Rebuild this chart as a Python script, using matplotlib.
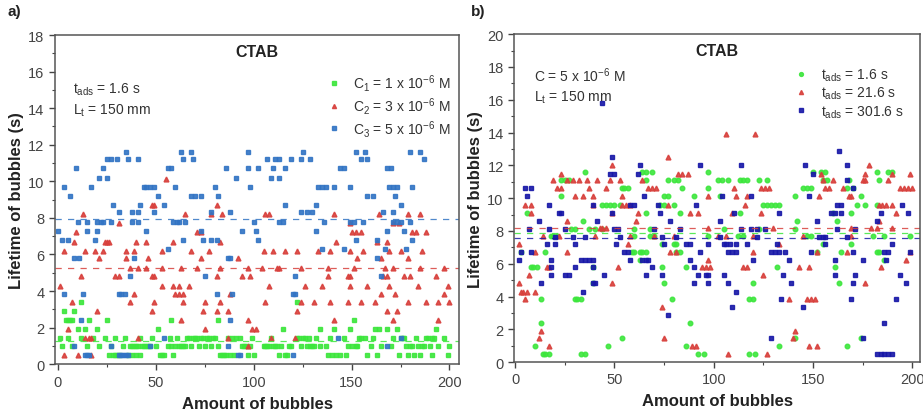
import matplotlib
matplotlib.use('Agg')
import matplotlib.pyplot as plt
from matplotlib.ticker import MultipleLocator

matplotlib.rcParams['font.family'] = ['Liberation Sans', 'DejaVu Sans']
matplotlib.rcParams['mathtext.default'] = 'regular'

# bubble numbers grouped by measured lifetime (s)
# panel a) : t_ads = 1.6 s, three concentrations
a_c1 = {
    3.4: [12, 122],
    2.9: [3, 8],
    2.4: [4, 5, 6, 7, 16, 25, 58, 82, 151],
    1.9: [10, 14, 20, 51, 115, 134, 141, 149, 162, 164, 168, 173, 193],
    1.45: [1, 5, 12, 18, 24, 29, 34, 42, 48, 57, 61, 66, 67, 69, 70, 71, 73, 74, 76, 77, 79, 80, 87,
           89, 91, 93, 99, 109, 122, 123, 125, 126, 128, 132, 139, 146, 154, 155, 157, 161, 171,
           175, 176, 177, 183, 188, 189, 191, 192, 197],
    1.0: [2, 7, 15, 21, 27, 33, 37, 38, 39, 40, 41, 43, 44, 45, 46, 47, 50, 56, 58, 60, 62, 63, 64,
          65, 68, 72, 75, 78, 82, 94, 95, 96, 98, 105, 106, 107, 108, 110, 111, 112, 114, 118, 119,
          124, 127, 129, 130, 131, 134, 137, 148, 150, 152, 153, 160, 165, 170, 178, 180, 181,
          184, 186, 187, 190, 194, 200],
    0.5: [26, 28, 29, 30, 31, 36, 38, 40, 42, 52, 53, 54, 59, 83, 84, 85, 86, 88, 90, 97, 100, 113,
          116, 117, 138, 140, 142, 144, 147, 158, 163, 174, 179, 182, 185, 191, 199],
}
a_c2 = {
    10.1: [55],
    8.7: [48, 49, 81],
    8.2: [13, 65, 78, 84, 106, 108, 141, 164, 179, 185],
    7.7: [31, 149, 171, 174],
    7.2: [9, 71, 73, 150, 152, 155, 181, 183, 188],
    6.7: [8, 24, 25, 26, 40, 45, 59, 83, 142, 163, 168],
    6.2: [3, 14, 19, 23, 35, 39, 53, 68, 77, 105, 110, 116, 122, 133, 139, 149, 156, 169, 175, 186],
    5.8: [21, 35, 46, 73, 92, 153, 165, 179],
    5.25: [37, 41, 45, 53, 63, 71, 83, 97, 104, 112, 113, 124, 138, 151, 167, 171, 185, 197],
    4.8: [12, 29, 31, 48, 49, 81, 94, 98, 138, 148, 149, 166, 168, 177, 180, 193],
    4.3: [1, 53, 59, 62, 67, 108, 126, 135, 149, 158, 169, 184, 199],
    3.85: [39, 60, 62, 64, 88, 165, 172, 197],
    3.4: [7, 37, 49, 64, 75, 83, 106, 124, 131, 139, 148, 155, 162, 179, 188, 194, 200],
    2.9: [20, 48, 74, 81, 87, 122, 168, 173],
    2.4: [63, 97, 141, 171, 194],
    1.9: [5, 75, 99, 101],
    1.45: [14, 16, 17, 41, 87, 109, 121],
    1.0: [97],
    0.5: [3, 10, 17],
}
a_c3 = {
    11.6: [35, 63, 68, 97, 125, 152, 157, 180, 185],
    11.2: [25, 27, 30, 36, 41, 64, 69, 107, 111, 113, 119, 124, 129, 155, 158, 187],
    10.7: [9, 23, 56, 58, 86, 97, 102, 110, 116, 144, 146, 168, 170],
    10.2: [21, 25, 91, 109, 113],
    9.7: [3, 17, 44, 45, 47, 49, 60, 80, 98, 133, 135, 137, 141, 149, 169, 171, 173, 181],
    9.2: [6, 51, 68, 70, 73, 82, 158, 161, 172],
    8.7: [28, 42, 54, 116, 132, 175],
    8.3: [31, 38, 41, 49, 78, 88, 124, 127, 130, 166, 171],
    7.8: [10, 15, 20, 22, 23, 27, 38, 41, 59, 61, 62, 65, 100, 113, 115, 136, 149, 151, 156, 171,
          173, 175, 180],
    7.3: [0, 15, 20, 45, 73, 94, 101, 132, 168, 177],
    6.8: [2, 5, 19, 64, 74, 78, 81, 102, 152, 163, 181],
    6.3: [56, 135, 146, 167, 178],
    5.8: [8, 11, 39, 87, 88, 163],
    4.8: [37, 75, 121, 165],
    3.85: [3, 13, 31, 32, 34, 81, 89, 120, 121],
    2.4: [12, 88],
    1.45: [54, 143, 175],
    1.0: [8, 27, 47, 87, 168],
    0.5: [14, 15, 16, 31, 32, 33, 35, 36, 92, 93, 120],
}
a_means = [1.25, 5.25, 7.95]

# panel b) : C = 5e-6 M, three adsorption times
b_t1 = {
    11.6: [35, 64, 66, 69, 97, 150, 154, 156, 182, 188, 190],
    11.1: [23, 25, 27, 66, 77, 80, 82, 102, 104, 107, 113, 115, 117, 123, 127, 155, 157, 168, 183],
    10.6: [54, 55, 57, 84, 97, 145, 147, 149, 167, 170],
    10.1: [23, 75, 77, 90, 103, 141, 174],
    9.6: [44, 46, 48, 50, 53, 73, 75, 80, 125, 127, 129, 131, 133, 172, 176, 182],
    9.1: [6, 66, 83, 113, 160, 169],
    8.6: [34, 142, 162],
    8.1: [28, 30, 37, 40, 44, 60, 68, 105, 123, 141],
    7.7: [18, 19, 21, 60, 68, 70, 97, 112, 115, 147, 149, 180, 186, 199],
    7.2: [74, 80, 81, 155, 169],
    6.7: [3, 15, 59, 60, 63, 64, 66, 81, 83, 152, 164, 182, 183],
    6.2: [63, 186],
    5.8: [8, 9, 11, 39, 74, 86, 132, 161],
    4.8: [39, 75, 120, 163],
    3.85: [13, 30, 31, 33, 79, 118, 120],
    2.4: [13, 88],
    1.45: [54, 141, 174],
    1.0: [10, 47, 86, 133, 167],
    0.5: [14, 15, 17, 33, 35, 92, 95, 118, 121],
}
b_t2 = {
    13.9: [106, 121],
    12.5: [77],
    12.0: [49, 178],
    11.5: [23, 82, 84, 87, 154, 176, 190, 199],
    11.1: [19, 26, 29, 32, 36, 41, 48, 53, 64, 155, 160, 175, 176, 188],
    10.6: [21, 23, 37, 46, 67, 69, 71, 110, 124, 126, 128, 156, 158, 165, 194, 196, 198, 200],
    10.1: [30, 34, 39, 54, 97, 111, 117, 153, 168, 169],
    9.6: [5, 8, 39, 54, 56, 58, 77, 116, 183, 185, 187, 190],
    9.1: [8, 49, 62, 88, 92, 109, 124, 192],
    8.6: [26, 61, 183],
    8.2: [43, 44, 46, 97, 130, 169, 179, 182, 190],
    7.7: [14, 22, 40, 58, 70, 80, 102, 106, 120, 145, 169],
    7.2: [2, 57, 133],
    6.7: [10, 26, 78, 81, 120, 152, 167, 199],
    6.25: [97, 197],
    5.8: [16, 17, 52, 94, 96, 98, 115, 117, 143, 148, 184],
    5.3: [7, 125],
    4.8: [2, 49, 176],
    4.3: [3, 4, 6, 10],
    3.85: [5, 138, 147, 149, 151],
    3.35: [74],
    1.9: [13, 141],
    1.45: [12, 75, 140],
    1.0: [17, 89, 91, 148, 152],
    0.5: [107, 127],
}
b_t3 = {
    15.8: [44],
    12.9: [163],
    12.5: [49],
    12.0: [63, 93, 114, 146, 167],
    11.5: [48, 50, 62, 150],
    11.1: [167],
    10.6: [5, 8, 170],
    10.1: [6, 65, 104, 119, 148],
    9.6: [17, 39, 58, 60, 72, 91, 162, 164, 195],
    9.1: [22, 23, 49, 73, 110, 133, 159, 161, 164, 184, 198],
    8.6: [12, 41, 78, 103, 152, 182],
    8.1: [7, 17, 25, 50, 52, 70, 83, 114, 119, 122, 126, 162, 171],
    7.6: [20, 29, 35, 53, 74, 81, 103, 122, 153, 155, 156, 167],
    7.2: [16, 20, 30, 51, 75, 86, 88, 97, 105, 106, 108, 111, 117, 132, 156, 190],
    6.7: [3, 8, 55, 57, 93, 107, 109, 111, 129, 131, 133, 136, 149, 170, 186, 188, 199],
    6.2: [2, 18, 33, 35, 37, 39, 58, 64, 66, 67, 88, 120, 138, 161, 175, 187],
    5.8: [18, 30, 39, 69, 90],
    5.3: [18, 25, 27, 45, 66, 74, 92, 96, 97, 105, 135, 161, 171, 194],
    4.8: [13, 39, 40, 90, 97, 107, 139, 170, 197],
    4.3: [34, 111],
    3.85: [134, 169, 192],
    3.35: [109, 145],
    2.9: [77],
    2.4: [186],
    1.45: [129, 175],
    0.5: [182, 184, 186, 188, 190],
}
b_means = [8.15, 7.9, 7.55]

a_labels = [r'C$_1$ = 1 x 10$^{-6}$ M', r'C$_2$ = 3 x 10$^{-6}$ M', r'C$_3$ = 5 x 10$^{-6}$ M']
b_labels = [r't$_{ads}$ = 1.6 s', r't$_{ads}$ = 21.6 s', r't$_{ads}$ = 301.6 s']

green = '#3ce63c'
red = '#d8403c'
blue_a = '#3274c4'
blue_b = '#1818a8'
txt = '#333333'


def flatten(d):
    xs, ys = [], []
    for life, nums in d.items():
        xs += nums
        ys += [life] * len(nums)
    return xs, ys


def style_axes(ax, ymax):
    ax.set_xlim(-1.5, 205)
    ax.set_ylim(0, ymax)
    ax.xaxis.set_major_locator(MultipleLocator(50))
    ax.xaxis.set_minor_locator(MultipleLocator(25))
    ax.yaxis.set_major_locator(MultipleLocator(2))
    ax.yaxis.set_minor_locator(MultipleLocator(1))
    ax.tick_params(which='both', direction='out', colors='#444444', labelsize=10.5,
                   top=False, right=False)
    ax.tick_params(which='major', length=4, width=1)
    ax.tick_params(which='minor', length=2.5, width=0.8)
    for s in ax.spines.values():
        s.set_color('#555555')
        s.set_linewidth(1.1)
    ax.set_xlabel('Amount of bubbles', fontsize=12, fontweight='bold', color='#222222',
                  labelpad=5)
    ax.set_ylabel('Lifetime of bubbles (s)', fontsize=12, fontweight='bold', color='#222222',
                  labelpad=3)
    ax.text(0.5, 0.95, 'CTAB', transform=ax.transAxes, ha='center', va='center',
            fontsize=11.5, fontweight='bold', color='#222222')


fig = plt.figure(figsize=(9.23, 4.14), dpi=100)
ax1 = fig.add_axes([0.0596, 0.118, 0.438, 0.795])
ax2 = fig.add_axes([0.557, 0.123, 0.440, 0.792])

# panel a
series_a = [(a_c1, green, 's', 3.3), (a_c2, red, '^', 3.5), (a_c3, blue_a, 's', 3.3)]
for (d, col, mk, ms), lab in zip(series_a, a_labels):
    x, y = flatten(d)
    ax1.plot(x, y, ls='none', marker=mk, ms=ms, color=col, mec=col, alpha=0.9, label=lab)
for m, col in zip(a_means, [green, red, blue_a]):
    ax1.axhline(m, color=col, lw=0.9, ls=(0, (5, 5)), alpha=0.85)
style_axes(ax1, 18)
ax1.text(0.045, 0.805, 't$_{ads}$ = 1.6 s\nL$_t$ = 150 mm', transform=ax1.transAxes,
         fontsize=10, color=txt, va='center', linespacing=1.4)
ax1.legend(loc='upper right', bbox_to_anchor=(1.01, 0.925), frameon=False, fontsize=10,
           handlelength=0.8, handletextpad=1.0, labelspacing=0.12, labelcolor=txt,
           markerscale=0.85)

# panel b
series_b = [(b_t1, green, 'o', 3.3), (b_t2, red, '^', 3.5), (b_t3, blue_b, 's', 3.3)]
for (d, col, mk, ms), lab in zip(series_b, b_labels):
    x, y = flatten(d)
    ax2.plot(x, y, ls='none', marker=mk, ms=ms, color=col, mec=col, alpha=0.9, label=lab)
for m, col in zip(b_means, [red, green, blue_b]):
    ax2.axhline(m, color=col, lw=0.9, ls=(0, (5, 5)), alpha=0.85)
style_axes(ax2, 20)
ax2.set_xlim(-0.5, 204)
ax2.text(0.05, 0.845, 'C = 5 x 10$^{-6}$ M\nL$_t$ = 150 mm', transform=ax2.transAxes,
         fontsize=10, color=txt, va='center', linespacing=1.35)
ax2.legend(loc='upper right', bbox_to_anchor=(0.99, 0.94), frameon=False, fontsize=10,
           handlelength=0.8, handletextpad=1.0, labelspacing=0.15, labelcolor=txt,
           markerscale=0.85)

fig.text(0.008, 0.962, 'a)', fontsize=11, fontweight='bold', color='#222222')
fig.text(0.51, 0.962, 'b)', fontsize=11, fontweight='bold', color='#222222')

fig.savefig('out.png', dpi=100, facecolor='white')
